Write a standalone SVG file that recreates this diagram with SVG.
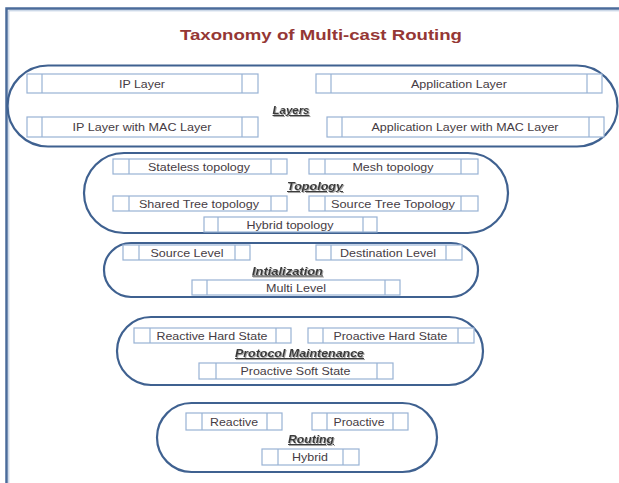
<svg xmlns="http://www.w3.org/2000/svg" width="619" height="483" viewBox="0 0 619 483">
  <defs>
    <filter id="shadow" x="-10%" y="-40%" width="130%" height="200%">
      <feDropShadow dx="1" dy="1" stdDeviation="0.7" flood-color="#808080" flood-opacity="0.7"/>
    </filter>
  </defs>
  <style>
    .frame { fill: none; stroke: #4a6b9a; stroke-width: 2.5; }
    .frame-in { fill: none; stroke: #b9c9df; stroke-width: 1; }
    .group { fill: none; stroke: #3f6190; stroke-width: 2.2; }
    .box { fill: #ffffff; stroke: #98b2d4; stroke-width: 1.2; }
    .div { stroke: #98b2d4; stroke-width: 1.2; }
    .t { font-family: "Liberation Sans", Arial, sans-serif; font-size: 10.5px; fill: #463c44; text-anchor: middle; }
    .lbl { font-family: "Liberation Sans", Arial, sans-serif; font-size: 10.5px; font-weight: bold; font-style: italic; text-decoration: underline; fill: #3a3a3a; text-anchor: middle; filter: url(#shadow); }
    .title { font-family: "Liberation Sans", Arial, sans-serif; font-size: 15px; font-weight: bold; fill: #953735; text-anchor: middle; }
  </style>

  <!-- page frame (runs off the right and bottom edges) -->
  <rect class="frame" x="6.5" y="8.5" width="700" height="600"/>
  <rect class="frame-in" x="8.8" y="10.8" width="700" height="600"/>

  <text class="title" x="321" y="40" textLength="282" lengthAdjust="spacingAndGlyphs">Taxonomy of Multi-cast Routing</text>

  <!-- Layers -->
  <g id="layers">
    <rect class="group" x="7.5" y="65.5" width="610" height="81" rx="40.5"/>
    <text class="lbl" x="291" y="114" textLength="37" lengthAdjust="spacingAndGlyphs">Layers</text>
  </g>
  <g id="ip-layer">
    <rect class="box" x="27" y="74" width="231" height="19"/>
    <line class="div" x1="42" y1="74" x2="42" y2="93"/><line class="div" x1="242" y1="74" x2="242" y2="93"/>
    <text class="t" x="142" y="87.5" textLength="46" lengthAdjust="spacingAndGlyphs">IP Layer</text>
  </g>
  <g id="application-layer">
    <rect class="box" x="316" y="74" width="286" height="19"/>
    <line class="div" x1="331" y1="74" x2="331" y2="93"/><line class="div" x1="587" y1="74" x2="587" y2="93"/>
    <text class="t" x="459" y="87.5" textLength="96" lengthAdjust="spacingAndGlyphs">Application Layer</text>
  </g>
  <g id="ip-mac-layer">
    <rect class="box" x="27" y="117" width="231" height="20"/>
    <line class="div" x1="42" y1="117" x2="42" y2="137"/><line class="div" x1="242" y1="117" x2="242" y2="137"/>
    <text class="t" x="142" y="131" textLength="139" lengthAdjust="spacingAndGlyphs">IP Layer with MAC Layer</text>
  </g>
  <g id="application-mac-layer">
    <rect class="box" x="327" y="117" width="277" height="20"/>
    <line class="div" x1="342" y1="117" x2="342" y2="137"/><line class="div" x1="589" y1="117" x2="589" y2="137"/>
    <text class="t" x="465" y="131" textLength="187" lengthAdjust="spacingAndGlyphs">Application Layer with MAC Layer</text>
  </g>

  <!-- Topology -->
  <g id="topology">
    <rect class="group" x="84" y="153" width="424" height="80" rx="40"/>
    <text class="lbl" x="315" y="190" textLength="56" lengthAdjust="spacingAndGlyphs">Topology</text>
  </g>
  <g id="stateless-topology">
    <rect class="box" x="113" y="159" width="174" height="15"/>
    <line class="div" x1="129" y1="159" x2="129" y2="174"/><line class="div" x1="271" y1="159" x2="271" y2="174"/>
    <text class="t" x="199" y="170.5" textLength="102" lengthAdjust="spacingAndGlyphs">Stateless topology</text>
  </g>
  <g id="mesh-topology">
    <rect class="box" x="309" y="159" width="169" height="15"/>
    <line class="div" x1="325" y1="159" x2="325" y2="174"/><line class="div" x1="461" y1="159" x2="461" y2="174"/>
    <text class="t" x="393" y="170.5" textLength="81" lengthAdjust="spacingAndGlyphs">Mesh topology</text>
  </g>
  <g id="shared-tree-topology">
    <rect class="box" x="113" y="196" width="174" height="15"/>
    <line class="div" x1="129" y1="196" x2="129" y2="211"/><line class="div" x1="271" y1="196" x2="271" y2="211"/>
    <text class="t" x="199" y="207.5" textLength="120" lengthAdjust="spacingAndGlyphs">Shared Tree topology</text>
  </g>
  <g id="source-tree-topology">
    <rect class="box" x="309" y="196" width="169" height="15"/>
    <line class="div" x1="325" y1="196" x2="325" y2="211"/><line class="div" x1="461" y1="196" x2="461" y2="211"/>
    <text class="t" x="393" y="207.5" textLength="124" lengthAdjust="spacingAndGlyphs">Source Tree Topology</text>
  </g>
  <g id="hybrid-topology">
    <rect class="box" x="204" y="217" width="173" height="15"/>
    <line class="div" x1="218" y1="217" x2="218" y2="232"/><line class="div" x1="363" y1="217" x2="363" y2="232"/>
    <text class="t" x="290" y="228.5" textLength="87" lengthAdjust="spacingAndGlyphs">Hybrid topology</text>
  </g>

  <!-- Initialization -->
  <g id="initialization">
    <rect class="group" x="104" y="243" width="374" height="54" rx="27"/>
    <text class="lbl" x="287.5" y="274.5" textLength="71" lengthAdjust="spacingAndGlyphs">Intialization</text>
  </g>
  <g id="source-level">
    <rect class="box" x="123" y="245" width="127" height="15"/>
    <line class="div" x1="139" y1="245" x2="139" y2="260"/><line class="div" x1="235" y1="245" x2="235" y2="260"/>
    <text class="t" x="187" y="256.5" textLength="73" lengthAdjust="spacingAndGlyphs">Source Level</text>
  </g>
  <g id="destination-level">
    <rect class="box" x="316" y="245" width="146" height="15"/>
    <line class="div" x1="331" y1="245" x2="331" y2="260"/><line class="div" x1="446" y1="245" x2="446" y2="260"/>
    <text class="t" x="388" y="256.5" textLength="96" lengthAdjust="spacingAndGlyphs">Destination Level</text>
  </g>
  <g id="multi-level">
    <rect class="box" x="192" y="280" width="208" height="15"/>
    <line class="div" x1="207" y1="280" x2="207" y2="295"/><line class="div" x1="385" y1="280" x2="385" y2="295"/>
    <text class="t" x="296" y="291.5" textLength="60" lengthAdjust="spacingAndGlyphs">Multi Level</text>
  </g>

  <!-- Protocol Maintenance -->
  <g id="protocol-maintenance">
    <rect class="group" x="117" y="317" width="366" height="68" rx="34"/>
    <text class="lbl" x="299.5" y="357" textLength="129" lengthAdjust="spacingAndGlyphs">Protocol Maintenance</text>
  </g>
  <g id="reactive-hard-state">
    <rect class="box" x="134" y="328" width="157" height="15"/>
    <line class="div" x1="150" y1="328" x2="150" y2="343"/><line class="div" x1="276" y1="328" x2="276" y2="343"/>
    <text class="t" x="212" y="339.5" textLength="111" lengthAdjust="spacingAndGlyphs">Reactive Hard State</text>
  </g>
  <g id="proactive-hard-state">
    <rect class="box" x="308" y="328" width="166" height="15"/>
    <line class="div" x1="323" y1="328" x2="323" y2="343"/><line class="div" x1="458" y1="328" x2="458" y2="343"/>
    <text class="t" x="390.5" y="339.5" textLength="114" lengthAdjust="spacingAndGlyphs">Proactive Hard State</text>
  </g>
  <g id="proactive-soft-state">
    <rect class="box" x="199" y="363" width="194" height="16"/>
    <line class="div" x1="216" y1="363" x2="216" y2="379"/><line class="div" x1="377" y1="363" x2="377" y2="379"/>
    <text class="t" x="295.5" y="375" textLength="110" lengthAdjust="spacingAndGlyphs">Proactive Soft State</text>
  </g>

  <!-- Routing -->
  <g id="routing">
    <rect class="group" x="157" y="403" width="280" height="69" rx="34.5"/>
    <text class="lbl" x="311" y="443" textLength="46" lengthAdjust="spacingAndGlyphs">Routing</text>
  </g>
  <g id="reactive">
    <rect class="box" x="186" y="413" width="96" height="17"/>
    <line class="div" x1="202" y1="413" x2="202" y2="430"/><line class="div" x1="267" y1="413" x2="267" y2="430"/>
    <text class="t" x="234" y="425.5" textLength="48" lengthAdjust="spacingAndGlyphs">Reactive</text>
  </g>
  <g id="proactive">
    <rect class="box" x="312" y="413" width="96" height="17"/>
    <line class="div" x1="327" y1="413" x2="327" y2="430"/><line class="div" x1="393" y1="413" x2="393" y2="430"/>
    <text class="t" x="359" y="425.5" textLength="51" lengthAdjust="spacingAndGlyphs">Proactive</text>
  </g>
  <g id="hybrid">
    <rect class="box" x="262" y="449" width="97" height="16"/>
    <line class="div" x1="278" y1="449" x2="278" y2="465"/><line class="div" x1="343" y1="449" x2="343" y2="465"/>
    <text class="t" x="310" y="461" textLength="36" lengthAdjust="spacingAndGlyphs">Hybrid</text>
  </g>
</svg>
